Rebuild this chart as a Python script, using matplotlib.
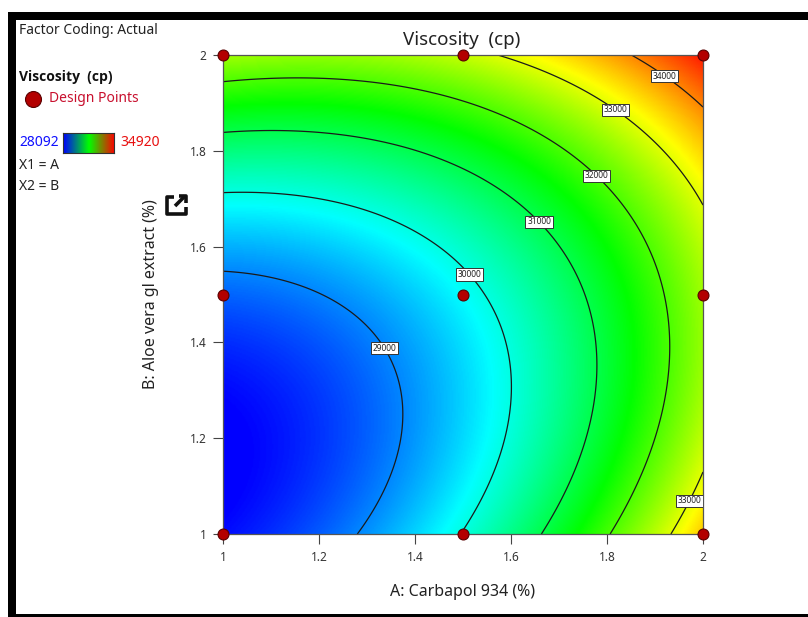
import numpy as np
import matplotlib
matplotlib.use('Agg')
import matplotlib.pyplot as plt
from matplotlib.colors import LinearSegmentedColormap
from matplotlib.patches import Rectangle
from matplotlib.lines import Line2D

# ---------------- data ----------------
carbapol_levels = [1.0, 1.5, 2.0]          # A: Carbapol 934 (%)
aloe_levels = [1.0, 1.5, 2.0]              # B: Aloe vera gl extract (%)
# predicted viscosity (cp) at the design points (rows: B level, cols: A level)
viscosity_b_1_0 = [28165, 30027, 33571]
viscosity_b_1_5 = [28770, 29822, 32556]
viscosity_b_2_0 = [32584, 32826, 34750]
contour_levels = [29000, 30000, 31000, 32000, 33000, 34000]
color_min, color_max = 28092, 34920
x_ticks = [1, 1.2, 1.4, 1.6, 1.8, 2]
y_ticks = [1, 1.2, 1.4, 1.6, 1.8, 2]
# label anchor spots along the contours (data units)
label_spots = [(1.323, 1.380), (1.508, 1.537), (1.656, 1.649), (1.779, 1.749),
               (1.823, 1.894), (1.927, 1.965), (1.960, 1.075)]

plt.rcParams['font.family'] = ['Noto Sans', 'DejaVu Sans']

# ---------------- quadratic response-surface fit ----------------
A_pts, B_pts = np.meshgrid(carbapol_levels, aloe_levels)
V_pts = np.array([viscosity_b_1_0, viscosity_b_1_5, viscosity_b_2_0], dtype=float)

def design(A, B):
    a = 2 * (np.asarray(A) - 1.5)
    b = 2 * (np.asarray(B) - 1.5)
    return np.stack([np.ones_like(a), a, b, a * b, a * a, b * b], axis=-1)

coef, *_ = np.linalg.lstsq(design(A_pts.ravel(), B_pts.ravel()), V_pts.ravel(), rcond=None)

gx = np.linspace(1, 2, 400)
gy = np.linspace(1, 2, 400)
GX, GY = np.meshgrid(gx, gy)
Z = design(GX, GY) @ coef

cmap = LinearSegmentedColormap.from_list(
    'de', ['#0000ff', '#00ffff', '#00ff00', '#ffff00', '#ff0000'])

W, H = 808, 617
fig = plt.figure(figsize=(W / 100, H / 100), dpi=100)

def fx(x):
    return x / W

def fy(y):
    return 1 - y / H

ax = fig.add_axes([fx(223), fy(534), 480 / W, 479 / H])
ax.imshow(Z, extent=(1, 2, 1, 2), origin='lower', cmap=cmap,
          vmin=color_min, vmax=color_max, aspect='auto', interpolation='bilinear')
cs = ax.contour(GX, GY, Z, levels=contour_levels, colors='#1a1a1a', linewidths=0.9)
labels = ax.clabel(cs, inline=False, fontsize=6, fmt='%d', manual=label_spots)
for t in labels:
    t.set_rotation(0)
    t.set_color('#222222')
    t.set_bbox(dict(boxstyle='square,pad=0.2', fc='white', ec='#333333', lw=0.7))

ax.scatter(A_pts.ravel(), B_pts.ravel(), s=62, color='#b30000', edgecolors='#5a0000',
           linewidths=0.8, zorder=10, clip_on=False)

ax.set_xlim(1, 2)
ax.set_ylim(1, 2)
ax.set_xticks(x_ticks)
ax.set_yticks(y_ticks)
ax.set_xticklabels([('%g' % v) for v in x_ticks])
ax.set_yticklabels([('%g' % v) for v in y_ticks])
ax.tick_params(direction='out', length=7, width=0.8, color='#444444',
               labelsize=8.5, labelcolor='#333333', pad=5)
for s in ax.spines.values():
    s.set_color('#555555')
    s.set_linewidth(0.9)
ax.set_xlabel('A: Carbapol 934 (%)', fontsize=11.5, color='#222222', labelpad=15)
ax.set_ylabel('B: Aloe vera gl extract (%)', fontsize=11.5, color='#222222', labelpad=22)
fig.text(fx(462), fy(40), 'Viscosity  (cp)', fontsize=13.5, color='#222222',
         ha='center', va='center')

# ---------------- left legend panel ----------------
fig.text(fx(19), fy(30), 'Factor Coding: Actual', fontsize=10, color='#222222', va='center')
fig.text(fx(19), fy(77), 'Viscosity  (cp)', fontsize=10, fontweight='bold',
         family=['Open Sans', 'DejaVu Sans'], color='#111111', va='center')
fig.add_artist(Line2D([fx(33)], [fy(99)], marker='o', markersize=11.5,
                      color='#b30000', markeredgecolor='#5a0000', markeredgewidth=0.8))
fig.text(fx(49), fy(99), 'Design Points', fontsize=10, color='#c8102e', va='center')
fig.text(fx(19), fy(143), str(color_min), fontsize=10, color='#1010ff', va='center')
fig.text(fx(120), fy(143), str(color_max), fontsize=10, color='#e81010', va='center')
bar_ax = fig.add_axes([fx(63), fy(153), 51 / W, 20 / H])
legend_cmap = LinearSegmentedColormap.from_list('lg', ['#0000ff', '#00ff00', '#ff0000'])
bar_ax.imshow(np.linspace(0, 1, 100)[None, :], cmap=legend_cmap, aspect='auto')
bar_ax.set_xticks([])
bar_ax.set_yticks([])
for s in bar_ax.spines.values():
    s.set_color('#333333')
    s.set_linewidth(0.8)
fig.text(fx(19), fy(166), 'X1 = A', fontsize=10, color='#222222', va='center')
fig.text(fx(19), fy(187), 'X2 = B', fontsize=10, color='#222222', va='center')

# pop-out icon
icon_kw = dict(color='#111111', linewidth=2.6, solid_capstyle='butt')
fig.add_artist(Line2D([fx(174), fx(167), fx(167), fx(186), fx(186)],
                      [fy(197), fy(197), fy(214), fy(214), fy(207)], **icon_kw))
fig.add_artist(Line2D([fx(175), fx(185)], [fy(206), fy(196)], **icon_kw))
fig.add_artist(Line2D([fx(179), fx(186), fx(186)], [fy(196), fy(196), fy(203)], **icon_kw))

# black frame bands
for (x0, y0, w, h) in [(8, 12, 800, 8), (8, 12, 8, 605), (8, 614, 800, 3)]:
    fig.add_artist(Rectangle((fx(x0), fy(y0 + h)), w / W, h / H, transform=fig.transFigure,
                             facecolor='black', edgecolor='none', zorder=20))

fig.savefig('out.png', dpi=100)
